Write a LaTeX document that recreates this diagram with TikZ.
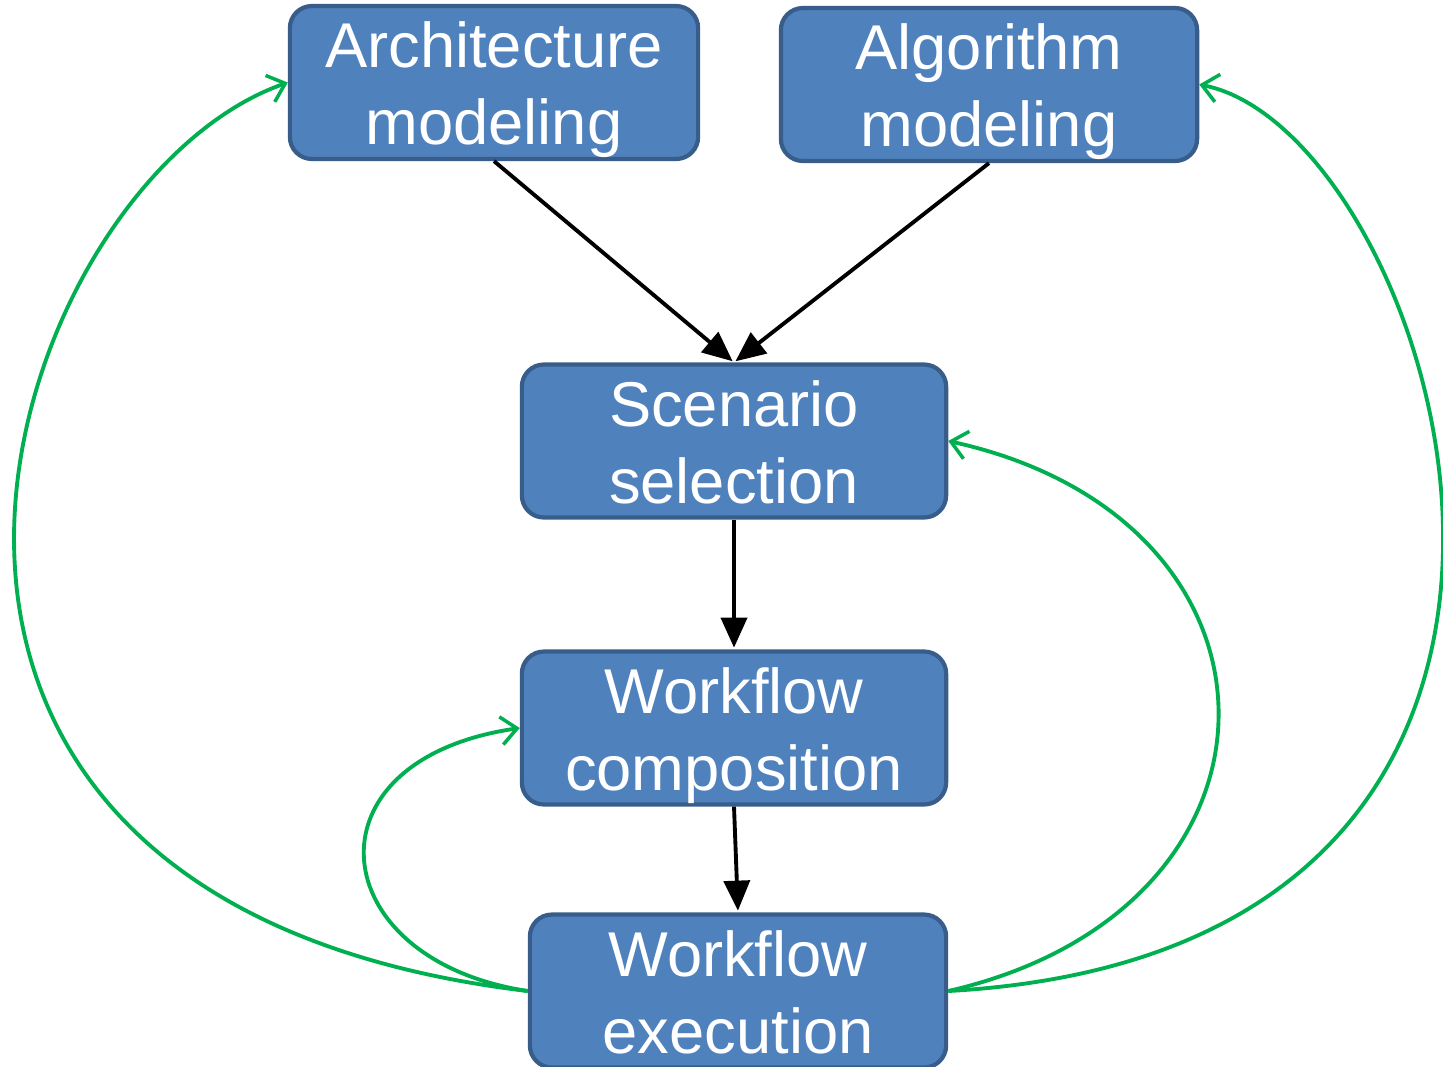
\documentclass[tikz,border=0pt]{standalone}
\usepackage{fontspec}
\setmainfont{Liberation Sans}
\usetikzlibrary{arrows.meta}
\definecolor{boxblue}{HTML}{4F81BD}
\definecolor{boxedge}{HTML}{385D8A}
\definecolor{loopgreen}{HTML}{00B050}
\newcommand\twolines[2]{\rule{0pt}{17.5pt}#1\\#2\rule[-4pt]{0pt}{4pt}}
\begin{document}
\begin{tikzpicture}[x=0.01cm, y=-0.01cm, line join=round,
  stage/.style={draw=boxedge, fill=boxblue, line width=1.2pt, rounded corners=0.22cm,
    text=white, align=center, font=\fontsize{18}{22}\selectfont,
    minimum height=1.51cm, inner sep=0pt},
  flow/.style={-{Triangle[length=0.3cm, width=0.26cm]}, line width=1.1pt, shorten >=0.5pt},
  back/.style={-{Straight Barb[length=0.16cm, width=0.28cm, line width=1pt]}, loopgreen, line width=1.1pt}]
\useasboundingbox (0,0) rectangle (1443,1066);
% stages
\node[stage, minimum width=4.08cm] (arch) at (494,82.5) {\twolines{Architecture}{modeling}};
\node[stage, minimum width=4.16cm] (algo) at (989,84.5) {\twolines{Algorithm}{modeling}};
\node[stage, minimum width=4.24cm] (scen) at (734,441) {\twolines{Scenario}{selection}};
\node[stage, minimum width=4.24cm] (comp) at (734,728) {\twolines{Workflow}{composition}};
\node[stage, minimum width=4.16cm] (exe) at (738,991) {\twolines{Workflow}{execution}};
% forward flow
\draw[flow] (arch.south) -- (scen.north);
\draw[flow] (algo.south) -- (scen.north);
\draw[flow] (scen.south) -- (comp.north);
\draw[flow] (comp.south) -- (exe.north);
% feedback loops
\draw[back] (exe.west) .. controls (-236,900) and (3,182) .. (arch.west);
\draw[back] (exe.west) .. controls (323,960) and (300,760) .. (comp.west);
\draw[back] (exe.east) .. controls (1308,909) and (1308,520) .. (scen.east);
\draw[back] (exe.east) .. controls (1691,950) and (1440,132) .. (algo.east);
\end{tikzpicture}
\end{document}
